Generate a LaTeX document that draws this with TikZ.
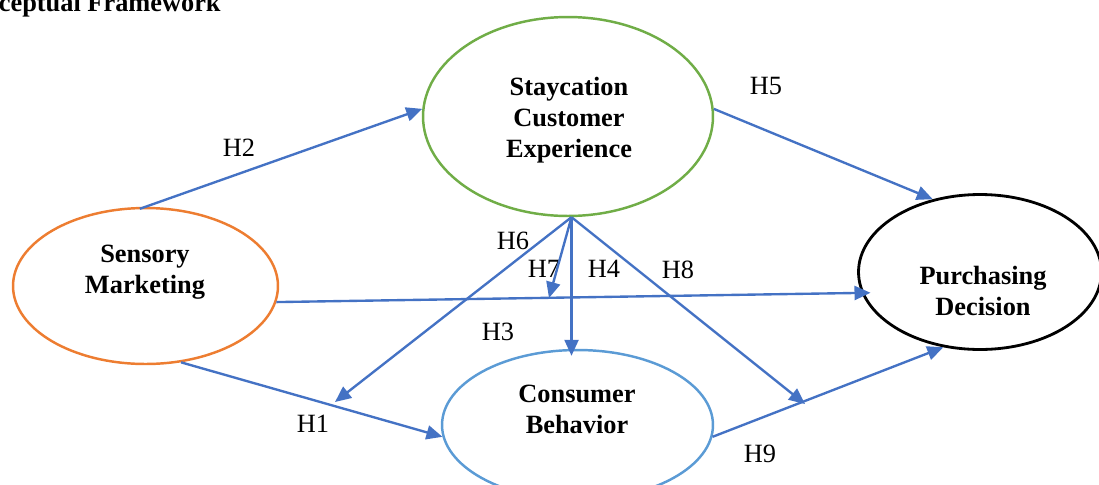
\documentclass[tikz,border=0pt]{standalone}
\usepackage{fontspec}
\setmainfont{Liberation Serif}
\usetikzlibrary{arrows.meta,shapes.geometric}

\definecolor{sensorange}{HTML}{ED7D31}
\definecolor{staygreen}{HTML}{70AD47}
\definecolor{consblue}{HTML}{5B9BD5}
\definecolor{linkblue}{HTML}{4472C4}

\tikzset{
	construct/.style={draw, ellipse, line width=1.4pt, inner sep=0pt},
	caption/.style={font=\fontsize{15}{17.6}\selectfont\bfseries, align=center, inner sep=0pt},
	hyp/.style={font=\fontsize{15}{18}\selectfont, inner sep=0pt},
	link/.style={draw=linkblue, line width=1.35pt, -{Triangle[length=0.32cm,width=0.28cm]}}
}

\begin{document}
\begin{tikzpicture}[x=0.02cm, y=-0.02cm]
			%%%%% START %%%%%
			
			\useasboundingbox (0,0) rectangle (1099,484);
			\clip (0,0) rectangle (1099,484);
			
			\node[caption, anchor=base east] (title) at (221,11) {Conceptual Framework};
			
			% constructs
			\node[construct, draw=staygreen, minimum width=5.8cm, minimum height=3.98cm] (stay) at (568,116.5) {};
			\node[construct, draw=sensorange, minimum width=5.3cm, minimum height=3.12cm] (sens) at (145.5,286) {};
			\node[construct, draw=black, line width=1.6pt, minimum width=4.86cm, minimum height=3.1cm] (purch) at (980,272) {};
			\node[construct, draw=consblue, minimum width=5.42cm, minimum height=3.0cm] (cons) at (577.5,425) {};
			
			\node[caption] (stayTxt) at (569,120) {Staycation\\Customer\\Experience};
			\node[caption] (sensTxt) at (145,272.5) {Sensory\\Marketing};
			\node[caption] (purchTxt) at (983,291) {Purchasing\\Decision};
			\node[caption] (consTxt) at (577,409) {Consumer\\Behavior};
			
			% hypotheses
			\node[hyp] (h1) at (313,424) {H1};
			\node[hyp] (h2) at (239,148) {H2};
			\node[hyp] (h3) at (498,332) {H3};
			\node[hyp] (h4) at (604,269) {H4};
			\node[hyp] (h5) at (766,86) {H5};
			\node[hyp] (h6) at (513,241) {H6};
			\node[hyp] (h7) at (544,269) {H7};
			\node[hyp] (h8) at (678,270) {H8};
			\node[hyp] (h9) at (760,454) {H9};
			
			% paths
			\coordinate (apex) at (stay.-88);
			\coordinate (h6end) at (335,402);
			\coordinate (h7end) at (549,298);
			\coordinate (h8end) at (805,404);
			
			\draw[link, shorten <=-0.12cm] (sens.north) -- (stay.177);
			\draw[link] (stay.3) -- (purch.123);
			\draw[link, shorten >=-0.18cm] (sens.-7) -- (purch.190);
			\draw[link] (sens.-65) -- (cons.185);
			\draw[link] (apex) -- (h6end);
			\draw[link] (apex) -- (h7end);
			\draw[link, shorten >=-0.14cm] (apex) -- (apex |- cons.north);
			\draw[link] (apex) -- (h8end);
			\draw[link] (cons.-5) -- (purch.244);
			
			%%%%% END %%%%%
\end{tikzpicture}
\end{document}
